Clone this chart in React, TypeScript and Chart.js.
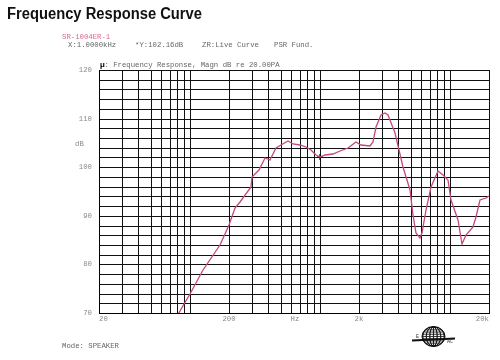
import React, { useEffect, useRef } from "react";
import { Chart, registerables } from "chart.js";

Chart.register(...registerables);

const freqs: number[] = [
  80, 100, 126, 170, 200, 221, 242, 297, 300, 320, 340, 377, 411, 457, 506, 570,
  624, 700, 787, 861, 940, 1000, 1089, 1262, 1422, 1648, 1910, 2090, 2419, 2564,
  2723, 2974, 3155, 3343, 3770, 4360, 4910, 5200, 5520, 5860, 6150, 6600, 7210,
  8110, 8860, 9680, 10280, 11560, 12490, 13240, 15070, 16000, 16980, 19100, 20000,
];
const levels: number[] = [
  69.4, 74.0, 78.8, 84.0, 88.1, 91.7, 92.9, 96.0, 98.0, 98.8, 99.5, 101.8, 101.5,
  103.9, 104.5, 105.4, 104.7, 104.5, 104.2, 103.5, 102.5, 102.0, 102.5, 102.8,
  103.4, 103.9, 105.2, 104.5, 104.3, 105.2, 108.3, 110.7, 111.1, 110.7, 107.0,
  100.1, 95.3, 90.1, 86.4, 85.5, 86.4, 91.2, 96.0, 99.3, 98.4, 97.3, 93.2, 89.1,
  84.2, 86.0, 87.7, 89.8, 93.2, 93.6, 94.0,
];
const cursorFreq = [1000];
const cursorLevel = [102.16];

const xGridValues: number[] = [
  20, 30, 40, 50, 60, 70, 80, 90, 100, 200, 300, 400, 500, 600, 700, 800, 900,
  1000, 2000, 3000, 4000, 5000, 6000, 7000, 8000, 9000, 10000, 20000,
];
const xLabels: Record<number, string> = { 20: "20", 200: "200", 640: "Hz", 2000: "2k", 20000: "20k" };
const yLabelValues = [70, 80, 90, 100, 110, 120];

const MONO = '"Liberation Mono", "DejaVu Sans Mono", monospace';

const textPlugin = {
  id: "texts",
  afterDraw(chart: any) {
    const ctx = chart.ctx as CanvasRenderingContext2D;
    ctx.save();
    // main title
    ctx.font = 'bold 16px "Liberation Sans", Arial, sans-serif';
    ctx.fillStyle = "#111";
    ctx.textBaseline = "alphabetic";
    const t = "Frequency Response Curve";
    const w = ctx.measureText(t).width;
    ctx.save();
    ctx.translate(7, 18.5);
    ctx.scale(195 / w, 1);
    ctx.fillText(t, 0, 0);
    ctx.restore();

    ctx.font = `7.3px ${MONO}`;
    ctx.textBaseline = "middle";
    ctx.textAlign = "left";
    ctx.fillStyle = "#d46a8a";
    ctx.fillText("SR-1004ER-1", 62, 37);
    ctx.fillStyle = "#666";
    ctx.fillText("X:1.0000kHz", 68, 45.5);
    ctx.fillText("*Y:102.16dB", 135, 45.5);
    ctx.fillText("ZR:Live Curve", 202, 45.5);
    ctx.fillText("PSR Fund.", 274, 45.5);
    ctx.fillText(": Frequency Response, Magn dB re 20.00PA", 104.4, 65);
    ctx.fillText("Mode: SPEAKER", 62, 346.5);
    ctx.fillStyle = "#888";
    ctx.fillText("dB", 75, 144);
    ctx.font = `bold 8px ${MONO}`;
    ctx.fillStyle = "#000";
    ctx.fillText("\u00b5", 100, 65);

    // logo
    const cx = 433.5, cy = 336.5, rx = 11.5, ry = 10;
    ctx.strokeStyle = "#111";
    ctx.fillStyle = "#fff";
    ctx.lineWidth = 1;
    ctx.beginPath();
    ctx.ellipse(cx, cy, rx, ry, 0, 0, Math.PI * 2);
    ctx.fill();
    ctx.stroke();
    ctx.save();
    ctx.beginPath();
    ctx.ellipse(cx, cy, rx, ry, 0, 0, Math.PI * 2);
    ctx.clip();
    ctx.lineWidth = 0.8;
    for (let i = -3; i <= 3; i++) {
      ctx.beginPath();
      ctx.ellipse(cx, cy, Math.abs(i) * rx / 3.2 + 0.1, ry, 0, 0, Math.PI * 2);
      ctx.stroke();
    }
    for (let j = -4; j <= 4; j++) {
      ctx.beginPath();
      ctx.moveTo(cx - rx, cy + (j * ry) / 4.5);
      ctx.lineTo(cx + rx, cy + (j * ry) / 4.5);
      ctx.stroke();
    }
    ctx.restore();
    ctx.lineWidth = 2;
    ctx.beginPath();
    ctx.moveTo(412, 340.5);
    ctx.lineTo(455, 338.5);
    ctx.stroke();
    ctx.font = `5px ${MONO}`;
    ctx.fillStyle = "#333";
    ctx.fillText("E", 416, 337);
    ctx.fillText("AC", 447, 342);
    ctx.restore();
  },
};

export default function App() {
  const ref = useRef<HTMLCanvasElement | null>(null);
  useEffect(() => {
    if (!ref.current) return;
    const chart = new Chart(ref.current, {
      type: "line",
      data: {
        datasets: [
          {
            data: freqs.map((f, i) => ({ x: f, y: levels[i] })),
            borderColor: "#c4487f",
            borderWidth: 1.3,
            pointRadius: 0,
            tension: 0,
          },
          {
            data: cursorFreq.map((f, i) => ({ x: f, y: cursorLevel[i] })),
            borderColor: "#000",
            borderWidth: 1.2,
            pointStyle: "cross",
            pointRadius: 3,
            showLine: false,
          },
        ],
      },
      options: {
        responsive: false,
        animation: false,
        layout: { padding: { top: 70, right: 11, left: 0, bottom: 0 } },
        plugins: { legend: { display: false }, tooltip: { enabled: false }, title: { display: false } },
        scales: {
          x: {
            type: "logarithmic",
            min: 20,
            max: 20000,
            alignToPixels: true,
            afterBuildTicks: (scale: any) => {
              const vals = [...xGridValues, 640].sort((a, b) => a - b);
              scale.ticks = vals.map((v) => ({ value: v }));
            },
            afterFit: (scale: any) => {
              scale.height = 47;
            },
            border: { color: "#000", width: 1 },
            grid: {
              drawTicks: false,
              color: (c: any) => (c.tick && c.tick.value === 640 ? "rgba(0,0,0,0)" : "#111"),
              lineWidth: 1,
            },
            ticks: {
              autoSkip: false,
              maxRotation: 0,
              align: "inner",
              padding: 2,
              color: "#888",
              font: { family: MONO, size: 7.3 },
              callback: (v: any) => xLabels[Number(v)] ?? "",
            },
          },
          y: {
            min: 70,
            max: 120,
            alignToPixels: true,
            afterFit: (scale: any) => {
              scale.width = 99;
            },
            border: { color: "#000", width: 1 },
            grid: { drawTicks: false, color: "#111", lineWidth: 1 },
            ticks: {
              stepSize: 2,
              autoSkip: false,
              padding: 7,
              color: "#888",
              font: { family: MONO, size: 7.3 },
              callback: (v: any) => (yLabelValues.includes(Number(v)) ? String(v) : ""),
            },
          },
        },
      },
      plugins: [textPlugin],
    } as any);
    return () => chart.destroy();
  }, []);
  return (
    <div style={{ position: "absolute", left: 0, top: 0, width: 500, height: 360, background: "#fff" }}>
      <canvas ref={ref} width={500} height={360} style={{ display: "block" }} />
    </div>
  );
}
